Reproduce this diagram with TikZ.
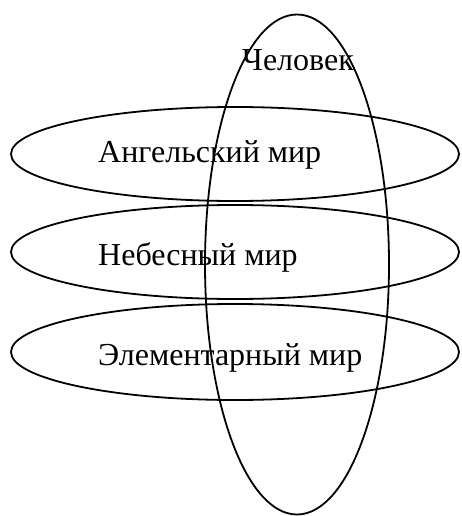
\documentclass[tikz,border=0pt]{standalone}
\usepackage{fontspec}
\setmainfont{Liberation Serif}
\usetikzlibrary{shapes.geometric}
\begin{document}
\begin{tikzpicture}[x=1pt,y=-1pt,
  ring/.style={draw=black,line width=1.8pt,ellipse,inner sep=0pt,outer sep=0pt},
  label/.style={anchor=base west,inner sep=0pt,font=\fontsize{32}{38}\selectfont}]
\useasboundingbox (0,0) rectangle (461,516);
\node[ring,minimum width=448pt,minimum height=94pt] (angel) at (235,154) {};
\node[ring,minimum width=448pt,minimum height=94pt] (heaven) at (235,252) {};
\node[ring,minimum width=448pt,minimum height=96pt] (elem) at (235,352) {};
\node[ring,minimum width=184pt,minimum height=500pt] (man) at (297,264.5) {};
\node[label] (tman) at (242,71) {Человек};
\node[label] (tangel) at (98,162) {Ангельский мир};
\node[label] (theaven) at (98,265) {Небесный мир};
\node[label] (telem) at (98,365) {Элементарный мир};
\end{tikzpicture}
\end{document}
